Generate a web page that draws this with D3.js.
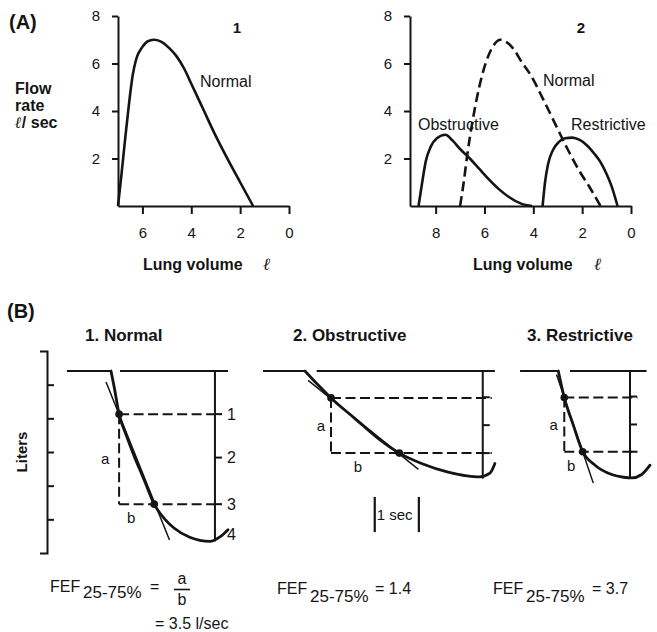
<!DOCTYPE html>
<html><head><meta charset="utf-8">
<script src="https://cdn.jsdelivr.net/npm/d3@7"></script>
<style>
body{margin:0;background:#fff;}
svg{font-family:"Liberation Sans", Arial, Helvetica, sans-serif;}
</style></head><body>
<svg id="c" width="657" height="632"></svg>
<script>
// ================= DATA =================
// Panel A : flow rate (l/sec) against lung volume (l)
const flowTicks = [2, 4, 6, 8];
const volumeTicksA1 = [6, 4, 2, 0];
const volumeTicksA2 = [8, 6, 4, 2, 0];

const normalVolA1  = [7.0, 6.85, 6.7, 6.55, 6.4, 6.25, 6.0, 5.75, 5.5, 5.2, 4.9, 4.6, 4.3, 4.0, 3.5, 3.0, 2.5, 2.0, 1.47];
const normalFlowA1 = [0,   1.4,  2.9, 4.3,  5.5, 6.2,  6.7, 6.95, 7.0, 6.9, 6.65, 6.3, 5.8, 5.15, 4.05, 2.95, 1.95, 1.0, 0];

const normalVolA2  = [7.0, 6.85, 6.7, 6.5, 6.3, 6.1, 5.85, 5.6, 5.35, 5.1, 4.8, 4.5, 4.1, 3.6, 3.1, 2.6, 2.1, 1.7, 1.25];
const normalFlowA2 = [0,   1.0,  2.2, 3.5, 4.6, 5.5, 6.3,  6.8, 7.0,  6.9, 6.6, 6.1, 5.5, 4.5, 3.45, 2.4, 1.45, 0.8, 0];

const obstructiveVol  = [8.7, 8.55, 8.4, 8.2, 7.95, 7.6, 7.3, 7.0, 6.6, 6.2, 5.8, 5.4, 5.0, 4.5, 4.05];
const obstructiveFlow = [0,   1.0,  1.9, 2.5, 2.85, 3.0, 2.75, 2.4, 2.0, 1.55, 1.1, 0.7, 0.38, 0.1, 0];

const restrictiveVol  = [3.62, 3.52, 3.4, 3.2, 2.95, 2.7, 2.4, 2.1, 1.8, 1.5, 1.25, 1.0, 0.8, 0.55];
const restrictiveFlow = [0,    1.0,  1.75, 2.35, 2.7, 2.85, 2.88, 2.78, 2.55, 2.2, 1.85, 1.35, 0.85, 0];

// Panel B : spirograms, time (sec) against volume expired (l)
const literTicks = [0, 1, 2, 3, 4, 5, 6];
const quartileLabels = ["1", "2", "3", "4"];

const timeB1 = [0, 0.07, 0.18, 0.35, 0.5, 0.75, 0.96, 1.2, 1.4, 1.75, 2.2, 2.42, 2.6];
const volB1  = [0, 0.46, 1.25, 1.9, 2.42, 3.2, 3.86, 4.3, 4.55, 4.82, 4.94, 4.81, 4.6];
const dotTimeB1 = [0.18, 0.96], dotVolB1 = [1.25, 3.86];
const quartVolB1 = [1.25, 2.51, 3.86, 4.75];
const tangentTimeB1 = [-0.11, 1.3], tangentVolB1 = [0.32, 4.9];

const timeB2 = [0, 0.26, 0.578, 1.11, 1.63, 2.096, 2.59, 3.18, 3.6, 3.87, 4.11, 4.22];
const volB2  = [0, 0.365, 0.78, 1.38, 1.96, 2.38, 2.68, 2.93, 3.04, 3.07, 2.96, 2.68];
const dotTimeB2 = [0.578, 2.096], dotVolB2 = [0.78, 2.38];
const quartVolB2 = [0.76, 1.57, 2.38];
const tangentTimeB2 = [0.07, 2.52], tangentVolB2 = [0.27, 2.85];

const timeB3 = [0, 0.133, 0.333, 0.542, 0.816, 1.187, 1.45, 1.631, 1.853, 2.038];
const volB3  = [0, 0.77, 1.57, 2.34, 2.73, 3.0, 3.08, 3.1, 3.0, 2.73];
const dotTimeB3 = [0.133, 0.542], dotVolB3 = [0.77, 2.34];
const quartVolB3 = [0.74, 1.55, 2.34];
const tangentTimeB3 = [-0.04, 0.778], tangentVolB3 = [0.1, 3.25];

const fefValues = ["3.5 l/sec", "1.4", "3.7"];

// ================= DRAWING =================
const ink = "#141414";
const svg = d3.select("#c");

function txt(x, y, s, size, opts = {}) {
  const t = svg.append("text").attr("x", x).attr("y", y).text(s)
    .attr("font-size", size).attr("fill", ink)
    .attr("font-weight", opts.bold ? "bold" : "normal")
    .attr("text-anchor", opts.anchor || "start");
  if (opts.italic) t.attr("font-style", "italic");
  if (opts.family) t.attr("font-family", opts.family);
  if (opts.transform) t.attr("transform", opts.transform);
  return t;
}
function styleAxis(g) {
  g.attr("font-family", null).attr("font-size", null);
  g.select(".domain").attr("stroke", ink).attr("stroke-width", 2);
  g.selectAll(".tick line").attr("stroke", ink).attr("stroke-width", 2);
  g.selectAll(".tick text").attr("font-size", 15).attr("fill", ink);
}

// ---------- Panel A ----------
const yA = d3.scaleLinear().domain([0, 8]).range([206, 16]);
const xA1 = d3.scaleLinear().domain([7, 0]).range([118, 289]);
const xA2 = d3.scaleLinear().domain([9.05, 0]).range([410, 631]);
const intFmt = d3.format("d");

function axesA(xs, xTicks, yAxisX) {
  svg.append("g").attr("transform", `translate(${yAxisX},0)`)
    .call(d3.axisLeft(yA).tickValues(flowTicks).tickFormat(intFmt).tickSize(6).tickSizeOuter(0).tickPadding(12))
    .call(styleAxis);
  svg.append("g").attr("transform", `translate(0,${yA(0)})`)
    .call(d3.axisBottom(xs).tickValues(xTicks).tickFormat(intFmt).tickSize(8).tickSizeOuter(0).tickPadding(13))
    .call(styleAxis);
}
axesA(xA1, volumeTicksA1, 118);
axesA(xA2, volumeTicksA2, 410);

function curveA(xs, vols, flows, dashed) {
  const line = d3.line().x(d => xs(d[0])).y(d => yA(d[1])).curve(d3.curveMonotoneX);
  const p = svg.append("path").datum(d3.zip(vols, flows)).attr("d", line)
    .attr("fill", "none").attr("stroke", ink).attr("stroke-width", 2.6)
    .attr("stroke-linejoin", "round");
  if (dashed) p.attr("stroke-dasharray", "10,5");
}
curveA(xA1, normalVolA1, normalFlowA1, false);
curveA(xA2, normalVolA2, normalFlowA2, true);
curveA(xA2, obstructiveVol, obstructiveFlow, false);
curveA(xA2, restrictiveVol, restrictiveFlow, false);

txt(9, 29, "(A)", 20, {bold: true});
txt(237, 33, "1", 15, {bold: true, anchor: "middle"});
txt(581, 33, "2", 15, {bold: true, anchor: "middle"});
txt(200, 87, "Normal", 16);
txt(543, 86, "Normal", 16);
txt(418, 130, "Obstructive", 16);
txt(571, 130, "Restrictive", 16);
txt(15, 94, "Flow", 16, {bold: true});
txt(15, 111, "rate", 16, {bold: true});
const fl = txt(15, 128, "", 16, {bold: true});
fl.append("tspan").attr("font-style", "italic").attr("font-family", "DejaVu Serif").text("ℓ");
fl.append("tspan").text("/ sec");
txt(143, 270, "Lung volume", 16, {bold: true});
txt(267, 270, "ℓ", 17, {bold: true, italic: true, anchor: "middle", family: "DejaVu Serif"});
txt(473, 270, "Lung volume", 16, {bold: true});
txt(598, 270, "ℓ", 17, {bold: true, italic: true, anchor: "middle", family: "DejaVu Serif"});

// ---------- Panel B ----------
txt(7, 318, "(B)", 20, {bold: true});
txt(85, 341, "1. Normal", 17, {bold: true});
txt(293, 341, "2. Obstructive", 17, {bold: true});
txt(527, 341, "3. Restrictive", 17, {bold: true});

// left "Liters" scale
const yL = d3.scaleLinear().domain([0, 6]).range([351, 553]);
svg.append("g").attr("transform", "translate(47,0)")
  .call(d3.axisLeft(yL).tickValues([]).tickSizeOuter(7)).call(styleAxis);
svg.append("g").attr("transform", "translate(47,0)")
  .call(d3.axisRight(yL).tickValues(literTicks.slice(1, -1)).tickSize(7).tickFormat(""))
  .call(styleAxis).call(g => g.select(".domain").remove());
txt(0, 0, "Liters", 15, {bold: true, anchor: "middle", transform: "translate(27,452) rotate(-90)"});

const SEC = 45, LIT = 34.5, TOP = 371;

function panelB(p) {
  const x = d3.scaleLinear().domain([0, 1]).range([p.x0, p.x0 + SEC]);
  const y = d3.scaleLinear().domain([0, 1]).range([TOP, TOP + LIT]);
  const g = svg.append("g").attr("fill", "none").attr("stroke", ink);
  const seg = (t1, v1, t2, v2, w) => g.append("line")
    .attr("x1", x(t1)).attr("y1", y(v1)).attr("x2", x(t2)).attr("y2", y(v2))
    .attr("stroke-width", w);
  // resting baseline and reference line
  seg(p.pre, 0, 0, 0, 2);
  seg(p.refFrom, 0, p.refTo, 0, 2);
  // FVC vertical with quartile ticks
  seg(p.fvcAt, 0, p.fvcAt, p.fvc, 2);
  p.quart.slice(0, 3).forEach(q => g.append("line")
    .attr("x1", x(p.fvcAt)).attr("x2", x(p.fvcAt) + 7).attr("y1", y(q)).attr("y2", y(q))
    .attr("stroke-width", 2));
  // dashed construction lines
  const [t1, t2] = p.dotT, [v1, v2] = p.dotV;
  [v1, v2].forEach(v => seg(t1, v, p.dashTo, v, 2).attr("stroke-dasharray", "10,4.5"));
  seg(t1, v1, t1, v2, 2).attr("stroke-dasharray", "10,4.5");
  // tangent
  seg(p.tanT[0], p.tanV[0], p.tanT[1], p.tanV[1], 1.5);
  // curve
  const line = d3.line().x(d => x(d[0])).y(d => y(d[1])).curve(d3.curveMonotoneX);
  g.append("path").datum(d3.zip(p.time, p.vol)).attr("d", line)
    .attr("stroke-width", 2.8).attr("stroke-linejoin", "round").attr("stroke-linecap", "round");
  // dots
  svg.selectAll(null).data(d3.zip(p.dotT, p.dotV)).join("circle")
    .attr("cx", d => x(d[0])).attr("cy", d => y(d[1])).attr("r", 3.8).attr("fill", ink);
  // a / b labels
  txt(x(t1) + p.aDx, (y(v1) + y(v2)) / 2 + 5, "a", 15, {anchor: "middle"});
  txt(x(t1) + p.bDx, y(v2) + 19, "b", 15, {anchor: "middle"});
  if (p.labels) p.quart.forEach((q, i) =>
    txt(x(p.fvcAt) + 12, y(q) + 5.5, quartileLabels[i], 16));
  if (p.secBar) {
    const [s0, s1] = p.secBar;
    [s0, s1].forEach(s => seg(s, 3.65, s, 4.67, 2.2));
    txt(x(s0) + 2, y(4.16) + 5.5, "1 sec", 15);
  }
  return x;
}

panelB({x0: 111, time: timeB1, vol: volB1, dotT: dotTimeB1, dotV: dotVolB1,
  quart: quartVolB1, tanT: tangentTimeB1, tanV: tangentVolB1,
  pre: -0.98, refFrom: 0.2, refTo: 2.6, fvcAt: 2.31, fvc: 4.94, dashTo: 2.46,
  aDx: -14, bDx: 12, labels: true});
panelB({x0: 305, time: timeB2, vol: volB2, dotT: dotTimeB2, dotV: dotVolB2,
  quart: quartVolB2, tanT: tangentTimeB2, tanV: tangentVolB2,
  pre: -0.933, refFrom: 0.26, refTo: 4.22, fvcAt: 3.95, fvc: 3.12, dashTo: 4.15,
  aDx: -10, bDx: 27, secBar: [1.55, 2.53]});
panelB({x0: 558.3, time: timeB3, vol: volB3, dotT: dotTimeB3, dotV: dotVolB3,
  quart: quartVolB3, tanT: tangentTimeB3, tanV: tangentVolB3,
  pre: -0.85, refFrom: 0.26, refTo: 1.96, fvcAt: 1.593, fvc: 3.1, dashTo: 1.76,
  aDx: -10.5, bDx: 7});

// FEF formulas
function fef(x, base, subBase, tail, tailX) {
  txt(x, base, "FEF", 16);
  txt(x + 33, subBase, "25-75%", 17);
  if (tail !== null) txt(tailX, base, tail, 16);
}
fef(50, 592, 598, "=", 150);
txt(182, 584, "a", 16, {anchor: "middle"});
svg.append("line").attr("x1", 174).attr("x2", 190).attr("y1", 589.5).attr("y2", 589.5)
  .attr("stroke", ink).attr("stroke-width", 1.6);
txt(182, 605, "b", 16, {anchor: "middle"});
txt(155, 629, "= " + fefValues[0], 16);
fef(277, 594, 602, "= " + fefValues[1], 375);
fef(493, 594, 602, "= " + fefValues[2], 592);
</script>
</body></html>
